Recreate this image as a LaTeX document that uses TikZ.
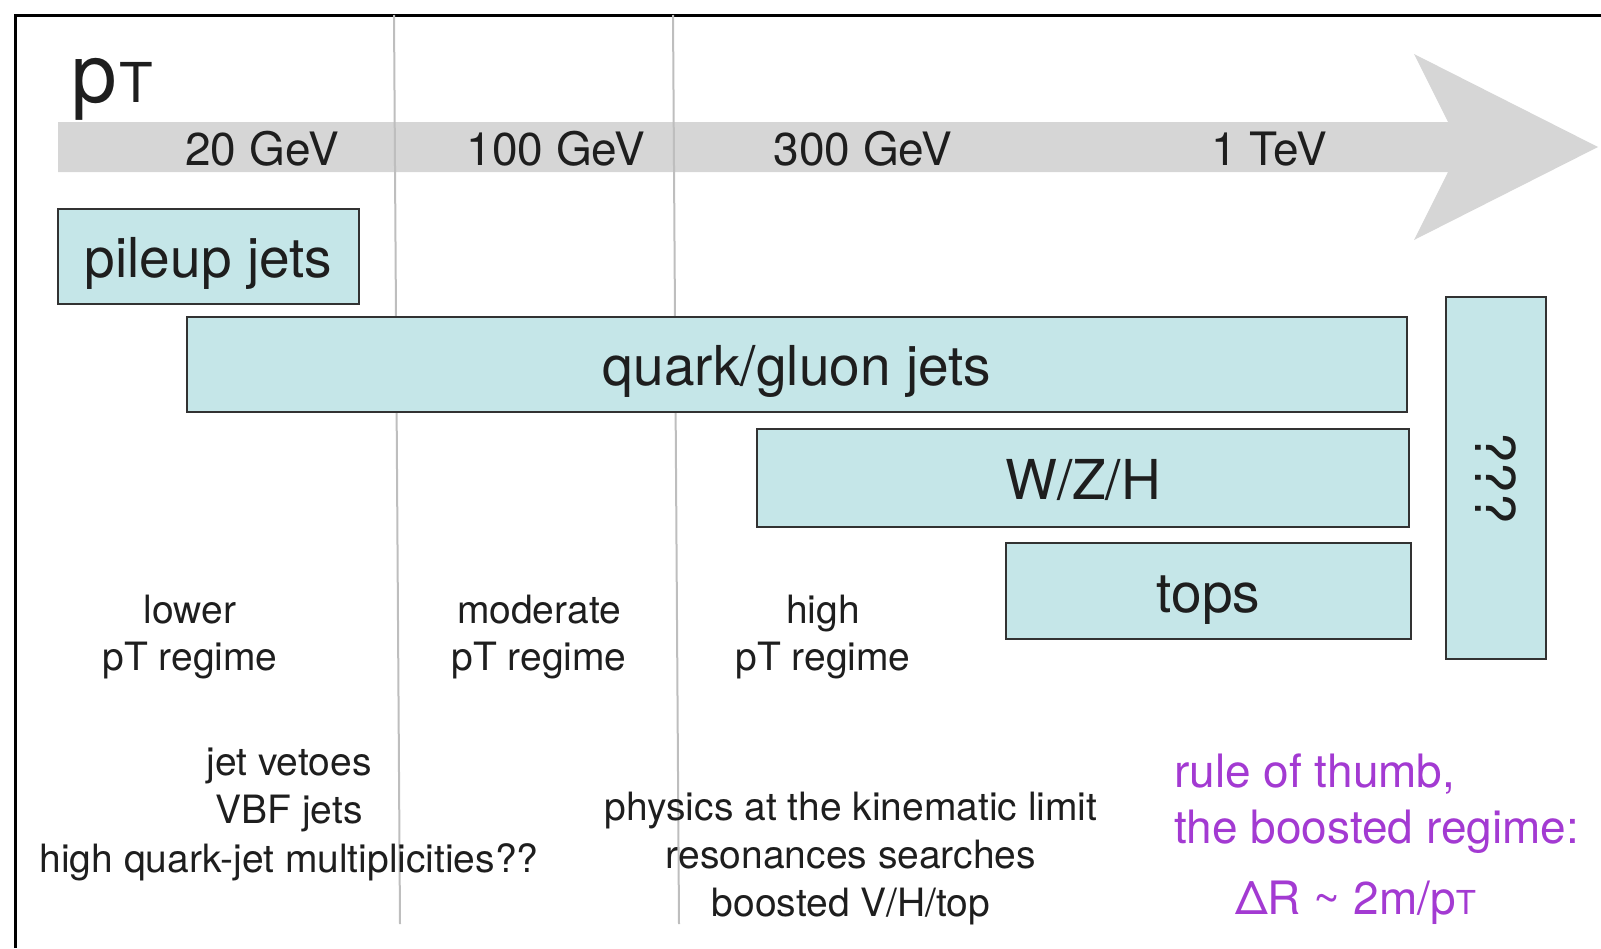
\documentclass[tikz,border=0pt]{standalone}
\usepackage{fontspec}
\setmainfont{TeX Gyre Heros}
\definecolor{axisgray}{RGB}{214,214,214}
\definecolor{divgray}{RGB}{190,190,190}
\definecolor{boxfill}{RGB}{197,230,232}
\definecolor{boxline}{RGB}{50,50,50}
\definecolor{ink}{RGB}{30,30,30}
\definecolor{thumb}{RGB}{163,58,210}
\begin{document}
\begin{tikzpicture}[x=1pt,y=-1pt,
  frameline/.style={line width=3pt,black},
  divider/.style={line width=2pt,divgray},
  jetbox/.style={draw=boxline,line width=2pt,fill=boxfill,text=ink,inner sep=0pt,
    font=\fontsize{55}{60}\selectfont},
  level/.style={text height=46pt,text depth=4pt},
  tick/.style={anchor=base,inner sep=0pt,text=ink,font=\fontsize{46}{50}\selectfont},
  small/.style={anchor=base,inner sep=0pt,text=ink,font=\fontsize{39}{44}\selectfont},
  rule/.style={anchor=base west,inner sep=0pt,text=thumb,font=\fontsize{46}{50}\selectfont}]
\useasboundingbox (0,0) rectangle (1601,948);

% outer frame (top and left edges)
\draw[frameline] (15,948) -- (15,15) -- (1601,15);

% pT axis arrow
\fill[axisgray] (58,122) -- (1448,122) -- (1414,54) -- (1598,147) -- (1414,240)
  -- (1448,172) -- (58,172) -- cycle;

% regime dividers
\draw[divider] (394,15) -- (400,924);
\draw[divider] (673,15) -- (679,924);

% axis title
\node[anchor=base west,inner sep=0pt,text=ink] (ptitle) at (71,102)
  {\fontsize{82}{82}\selectfont p\kern3pt\fontsize{55}{55}\selectfont T};

% axis scale labels
\node[tick] (t20)  at (262,165) {20 GeV};
\node[tick] (t100) at (556,165) {100 GeV};
\node[tick] (t300) at (863,165) {300 GeV};
\node[tick] (t1k)  at (1269,165) {1 TeV};

% jet categories
\node[jetbox,level,minimum width=301pt,minimum height=95pt] (pileup) at (208.5,256.5) {pileup jets};
\node[jetbox,level,minimum width=1220pt,minimum height=95pt] (qg) at (797,364.5) {quark/gluon jets};
\node[jetbox,level,minimum width=652pt,minimum height=98pt] (wzh) at (1083,478) {W/Z/H};
\node[jetbox,level,minimum width=405pt,minimum height=96pt] (tops) at (1208.5,591) {tops};
\node[jetbox,rotate=-90,minimum width=362pt,minimum height=100pt] (unknown) at (1496,478) {???};

% regime names
\node[small] (low1) at (190,623) {lower};
\node[small] (low2) at (190,670) {pT regime};
\node[small] (mod1) at (539,623) {moderate};
\node[small] (mod2) at (539,670) {pT regime};
\node[small] (hi1)  at (823,623) {high};
\node[small] (hi2)  at (823,670) {pT regime};

% physics topics
\node[small] (lowa) at (289,775) {jet vetoes};
\node[small] (lowb) at (289,823) {VBF jets};
\node[small] (lowc) at (289,872) {high quark-jet multiplicities??};
\node[small] (hia) at (851,820) {physics at the kinematic limit};
\node[small] (hib) at (851,868) {resonances searches};
\node[small] (hic) at (851,916) {boosted V/H/top};

% boosted-regime rule of thumb
\node[rule] (rule1) at (1174,787) {rule of thumb,};
\node[rule] (rule2) at (1174,843) {the boosted regime:};
\node[rule] (rule3) at (1235,914)
  {ΔR \textasciitilde{} 2m/p\fontsize{33}{33}\selectfont T};
\end{tikzpicture}
\end{document}
